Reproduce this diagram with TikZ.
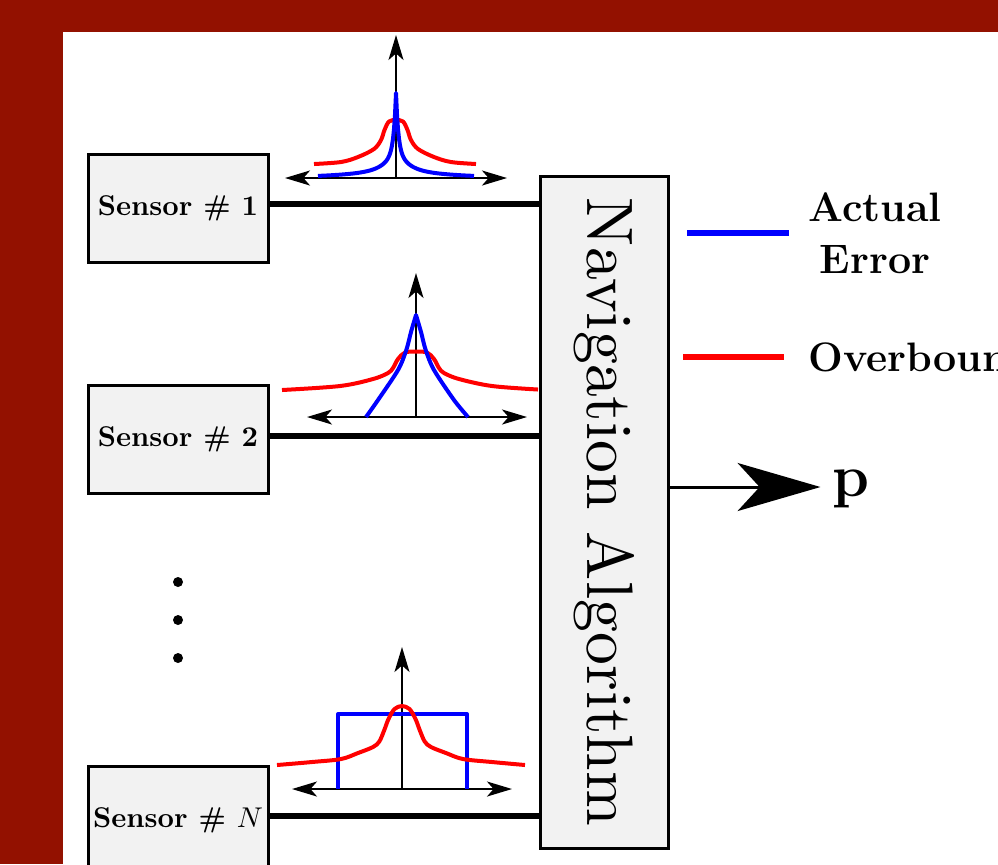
\documentclass[tikz,border=0pt]{standalone}
\usepackage{fontspec}
\newfontfamily\navfont{lmroman10-regular.otf}
\usetikzlibrary{arrows.meta}
\definecolor{bgred}{RGB}{147,17,0}
\definecolor{boxgray}{RGB}{242,242,242}
\begin{document}
\begin{tikzpicture}[x=0.35pt,y=-0.35pt,
  sensorbox/.style={draw, line width=1.05pt, fill=boxgray, minimum width=63pt, minimum height=37.8pt, inner sep=0pt, font=\bfseries},
  navbox/.style={draw, line width=1.05pt, fill=boxgray, minimum width=44.8pt, minimum height=235.2pt, inner sep=0pt},
  conn/.style={line width=2.1pt},
  axisline/.style={line width=0.7pt},
  axtip/.tip={Stealth[length=8.75pt,width=5.25pt,inset=2.3pt]},
  outtip/.tip={Stealth[length=29pt,width=16.8pt,inset=7.7pt]},
  redcurve/.style={draw=red, line width=1.4pt, line join=round},
  bluecurve/.style={draw=blue, line width=1.4pt, line join=round},
  legendline/.style={line width=2.1pt},
  legendtext/.style={font=\Large\bfseries, inner sep=0pt, align=center}
]
\useasboundingbox (0,0) rectangle (998,864);
\fill[bgred] (0,0) rectangle (998,864);
\fill[white] (63,32) rectangle (998,864);

% plot 1
\begin{scope}[shift={(396,178)}, yscale=-1]
  \draw[axisline, axtip-axtip] (-111,0) -- (111,0);
  \draw[axisline, -axtip] (0,0) -- (0,143);
  \draw[redcurve] plot[smooth, tension=0.55] coordinates {(-82,14) (-55,16) (-38,21) (-22,29) (-15,38) (-11.5,48) (-7,56.5) (0,58) (7,56.5) (11.5,48) (15,38) (22,29) (38,21) (55,16) (80,14)};
  \draw[bluecurve] plot[domain=-78:78, samples=157] (\x,{53*exp(-abs(\x)/2.2)+22*exp(-abs(\x)/10)+10*exp(-abs(\x)/50)});
\end{scope}

% plot 2
\begin{scope}[shift={(416,417)}, yscale=-1]
  \draw[axisline, axtip-axtip] (-109,0) -- (111,0);
  \draw[axisline, -axtip] (0,0) -- (0,144);
  \draw[redcurve] plot[smooth, tension=0.55] coordinates {(-134,27) (-76,31) (-43,38) (-28,44) (-23,49) (-18,58) (-11,64.5) (0,65.5) (11,64.5) (18,58) (23,49) (28,44) (43,38) (76,31) (122,27.5)};
  \draw[bluecurve] plot[smooth, tension=0.5] coordinates {(-50,0) (-38,17) (-18,47) (-9.7,67) (-5,85) (0,102)}
    -- plot[smooth, tension=0.5] coordinates {(0,102) (5,85) (9.7,67) (18,47) (38,17) (52,0)};
\end{scope}

% plot 3
\begin{scope}[shift={(402,789)}, yscale=-1]
  \draw[axisline, axtip-axtip] (-110,0) -- (110,0);
  \draw[axisline, -axtip] (0,0) -- (0,142);
  \draw[bluecurve] (-64,0) -- (-64,75) -- (65,75) -- (65,0);
  \draw[redcurve] plot[smooth, tension=0.55] coordinates {(-125,24) (-90,27) (-61,30) (-44,36) (-29,42) (-22.7,47.5) (-17.7,59) (-13.5,70) (-7.5,80) (0,83) (7.5,80) (13.5,70) (17.7,59) (22.7,47.5) (29,42) (44,36) (61,30) (90,27) (123,24)};
\end{scope}

% boxes
\node[sensorbox] (s1) at (178,208) {Sensor \# 1};
\node[sensorbox] (s2) at (178,439.5) {Sensor \# 2};
\node[sensorbox] (sN) at (178,820) {Sensor \# $N$};
\node[navbox] (nav) at (604,512) {};
\node[rotate=-90, font=\navfont\fontsize{23}{28}\selectfont, inner sep=0pt] (navtxt) at (nav.center) {Navigation Algorithm};

% dots
\fill (178,582) circle[radius=1.75pt];
\fill (178,620) circle[radius=1.75pt];
\fill (178,658) circle[radius=1.75pt];

% connectors
\coordinate (c1) at ([yshift=1.4pt]s1.east);
\coordinate (c2) at ([yshift=1.4pt]s2.east);
\coordinate (c3) at ([yshift=1.4pt]sN.east);
\draw[conn] (c1) -- (c1 -| nav.west);
\draw[conn] (c2) -- (c2 -| nav.west);
\draw[conn] (c3) -- (c3 -| nav.west);

% output
\node[font=\huge\bfseries, inner sep=0pt] (p) at (851,489) {p};
\coordinate (o1) at ([yshift=8.75pt]nav.east);
\draw[line width=1.05pt, -outtip, shorten >=4pt] (o1) -- (o1 -| p.west);

% legend
\draw[legendline, blue] (687,233) -- (789,233);
\node[legendtext] (lgact) at (875,233) {Actual\\Error};
\draw[legendline, red] (683,357) -- (784,357);
\node[legendtext, anchor=west] (lgover) at (808,357) {Overbound};
\end{tikzpicture}
\end{document}
